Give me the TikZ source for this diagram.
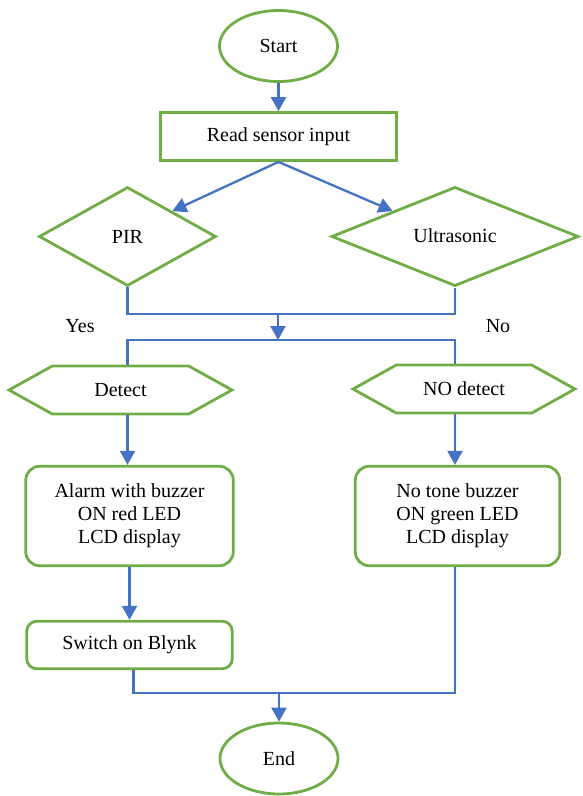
\documentclass[tikz,border=0pt]{standalone}
\usepackage{fontspec}
\setmainfont{Liberation Serif}
\usetikzlibrary{shapes.geometric,shapes.symbols,arrows.meta}
\definecolor{boxgreen}{HTML}{70AD47}
\definecolor{lineblue}{HTML}{4472C4}
\begin{document}
\begin{tikzpicture}[x=1pt,y=-1pt,
        font=\fontsize{20}{23}\selectfont,
        term/.style={ellipse,draw=boxgreen,line width=2.8pt,minimum width=118pt,minimum height=71pt,inner sep=0pt},
        box/.style={rectangle,draw=boxgreen,line width=2.8pt,inner sep=0pt,align=center},
        decide/.style={diamond,draw=boxgreen,line width=2.8pt,inner sep=0pt},
        hexa/.style={signal,signal to=west and east,signal pointer angle=58,draw=boxgreen,line width=2.8pt,inner sep=0pt,minimum height=48pt},
        line/.style={draw=lineblue,line width=2.3pt},
        arrow/.style={line,-{Triangle[length=14pt,width=15pt]}}]
        \useasboundingbox (0,0) rectangle (582,796);
        % start and first step
        \node[term] (start) at (278.5,46) {Start};
        \node[box,minimum width=236pt,minimum height=48pt] (read) at (278.5,136.5) {Read sensor input};
        % the two sensors
        \node[decide,minimum width=177pt,minimum height=99pt] (pir) at (127.5,236.5) {PIR};
        \node[decide,minimum width=247pt,minimum height=99pt] (ultra) at (455,236.5) {\raisebox{2pt}{Ultrasonic}};
        % detection result
        \node[hexa,minimum width=223pt] (detect) at (120.5,390) {Detect};
        \node[hexa,minimum width=222pt] (nodetect) at (464,389) {NO detect};
        \node (yes) at (80,326) {Yes};
        \node (no) at (498,326) {No};
        % actions
        \node[box,rounded corners=14pt,minimum width=207.5pt,minimum height=99.5pt] (alarm) at (129.5,516) {Alarm with buzzer\\ON red LED\\LCD display};
        \node[box,rounded corners=14pt,minimum width=204.5pt,minimum height=99.5pt] (notone) at (457.5,516) {No tone buzzer\\ON green LED\\LCD display};
        \node[box,rounded corners=10pt,minimum width=205.5pt,minimum height=47.5pt] (blynk) at (129.5,645) {Switch on Blynk};
        \node[term] (end) at (279,758.5) {End};
        % junction points
        \coordinate (merge) at (278,314);
        \coordinate (split) at (278,340);
        \coordinate (join) at (279,693);
        % start to read
        \draw[arrow] (start) -- (read);
        % read to sensors
        \draw[arrow] (read.south) -- (pir.north east);
        \draw[arrow] (read.south) -- (ultra.north west);
        % sensors merge
        \draw[line] (pir.south) |- (merge) -| (ultra.south);
        \draw[arrow] (merge) -- (split);
        % split to results
        \draw[line] (pir.south |- detect.north) |- (split) -| (ultra.south |- nodetect.north);
        % results to actions
        \draw[arrow] (pir.south |- detect.south) -- (pir.south |- alarm.north);
        \draw[arrow] (ultra.south |- nodetect.south) -- (ultra.south |- notone.north);
        \draw[arrow] (alarm.south) -- (blynk.north);
        % actions to end
        \draw[line] ([xshift=4pt]blynk.south) |- (join) -| (ultra.south |- notone.south);
        \draw[arrow] (join) -- (end);
\end{tikzpicture}
\end{document}
